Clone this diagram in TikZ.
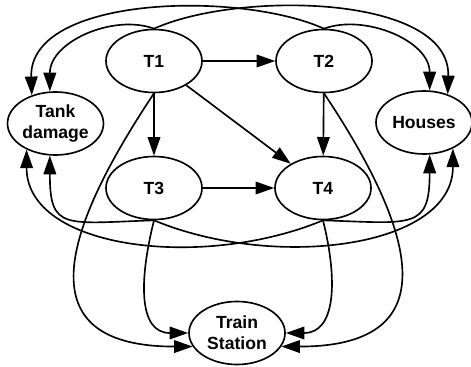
\documentclass[tikz,border=0pt]{standalone}
\usepackage{fontspec}
\setmainfont{Liberation Sans}
\usetikzlibrary{shapes.geometric,arrows.meta}
\begin{document}
\begin{tikzpicture}[x=0.03cm,y=-0.03cm,
  ev/.style={ellipse,draw,line width=1.4pt,minimum width=2.88cm,minimum height=1.89cm,inner sep=0pt,align=center,font=\fontsize{15}{18}\selectfont\bfseries},
  arr/.style={line width=1.4pt,-{Triangle[length=0.56cm,width=0.38cm]}}]
\useasboundingbox (0,0) rectangle (471,367);
\node[ev] (T1) at (154,61) {T1};
\node[ev] (T2) at (324,61) {T2};
\node[ev] (TD) at (55.5,123.5) {Tank\\damage};
\node[ev] (H) at (424,122.5) {Houses};
\node[ev] (T3) at (154,188) {T3};
\node[ev] (T4) at (323,188) {T4};
\node[ev] (TS) at (237,333) {Train\\Station};
% straight
\draw[arr] (T1) -- (T2);
\draw[arr] (T1) -- (T3);
\draw[arr] (T1) -- (T4);
\draw[arr] (T2) -- (T4);
\draw[arr] (T3) -- (T4);
% top curves
\draw[arr] (T1.north) .. controls +(-40,-15) and +(0,-50) .. (TD.100);
\draw[arr] (T2.north) .. controls +(-84,-38) and +(-3,-100) .. (TD.130);
\draw[arr] (T1.north) .. controls +(84,-38) and +(3,-100) .. (H.50);
\draw[arr] (T2.north) .. controls +(40,-15) and +(0,-50) .. (H.80);
% bottom curves
\draw[arr] (T3.south) .. controls +(-90,3) and +(0,75) .. (TD.260);
\draw[arr] (T4.south) .. controls +(-120,50) and +(0,100) .. (TD.222);
\draw[arr] (T3.south) .. controls +(120,50) and +(0,100) .. (H.318);
\draw[arr] (T4.south) .. controls +(90,3) and +(0,75) .. (H.280);
% to train station
\draw[arr] (T1.south) .. controls +(-100,150) and +(-160,0) .. (TS.197);
\draw[arr] (T3.south) .. controls +(-15,60) and +(-50,0) .. (TS.180);
\draw[arr] (T4.south) .. controls +(15,60) and +(50,0) .. (TS.0);
\draw[arr] (T2.south) .. controls +(100,150) and +(160,0) .. (TS.-17);
\end{tikzpicture}
\end{document}
